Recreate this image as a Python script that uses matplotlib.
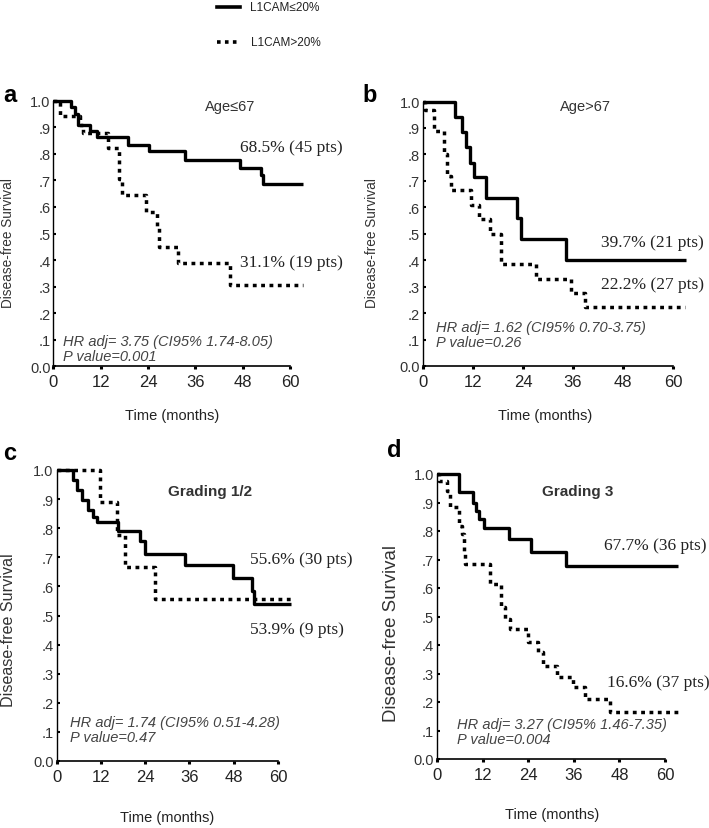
import matplotlib
matplotlib.use("Agg")
import matplotlib.pyplot as plt

W, H = 709, 829
NARROW = ["Liberation Sans Narrow", "Liberation Sans", "DejaVu Sans"]
SANS = ["Liberation Sans", "DejaVu Sans"]
SERIF = ["Liberation Serif", "DejaVu Serif"]

# ---- data (months, disease-free survival) ----
a_low_t = [0, 4.6, 5.5, 6.3, 9.3, 11.1, 19.0, 24.3, 33.3, 47.4, 52.6, 53.2, 63.3]
a_low_s = [1.0, 0.975, 0.95, 0.91, 0.885, 0.862, 0.835, 0.81, 0.778, 0.747, 0.72, 0.686, 0.686]
a_high_t = [0, 1.7, 6.8, 7.6, 13.9, 16.6, 17.5, 23.4, 26.2, 26.8, 31.6, 44.9, 63.3]
a_high_s = [1.0, 0.941, 0.91, 0.88, 0.822, 0.705, 0.645, 0.582, 0.53, 0.448, 0.388, 0.307, 0.307]

b_low_t = [0, 7.6, 9.4, 10.2, 11.2, 12.2, 15.0, 22.6, 23.4, 34.2, 63.2]
b_low_s = [1.0, 0.941, 0.884, 0.827, 0.768, 0.714, 0.635, 0.559, 0.481, 0.399, 0.399]
b_high_t = [0, 0.5, 2.7, 5.0, 5.8, 6.8, 11.6, 13.5, 16.0, 18.8, 27.2, 35.6, 38.8, 62.8]
b_high_s = [1.0, 0.966, 0.889, 0.80, 0.72, 0.665, 0.61, 0.555, 0.50, 0.385, 0.33, 0.275, 0.222, 0.222]

c_low_t = [0, 4.5, 5.6, 7.0, 8.5, 10.0, 11.0, 16.6, 22.7, 24.0, 34.9, 47.9, 52.9, 53.6, 63.4]
c_low_s = [1.0, 0.966, 0.931, 0.897, 0.862, 0.84, 0.823, 0.79, 0.755, 0.713, 0.673, 0.629, 0.585, 0.539, 0.539]
c_high_t = [0, 11.8, 16.3, 18.5, 26.7, 63.4]
c_high_s = [1.0, 0.889, 0.778, 0.667, 0.556, 0.556]

d_low_t = [0, 5.9, 9.6, 10.2, 11.1, 12.3, 19.0, 24.7, 33.9, 63.5]
d_low_s = [1.0, 0.938, 0.90, 0.871, 0.842, 0.81, 0.772, 0.725, 0.677, 0.677]
d_high_t = [0, 0.5, 2.6, 3.3, 5.7, 6.5, 7.0, 7.3, 14.0, 16.8, 17.8, 19.3, 24.0,
            26.5, 27.8, 31.7, 35.9, 39.0, 45.5, 63.5]
d_high_s = [1.0, 0.976, 0.94, 0.883, 0.819, 0.789, 0.72, 0.684, 0.614, 0.532, 0.491,
            0.456, 0.409, 0.374, 0.327, 0.287, 0.251, 0.21, 0.166, 0.166]

x_ticks = [0, 12, 24, 36, 48, 60]
y_ticks = [0.0, 0.1, 0.2, 0.3, 0.4, 0.5, 0.6, 0.7, 0.8, 0.9, 1.0]
y_ticklabels = ["0.0", ".1", ".2", ".3", ".4", ".5", ".6", ".7", ".8", ".9", "1.0"]

DOT = (0, (1.1, 1.3))


def fx(x):
    return x / W


def fy(y):
    return 1 - y / H


def make_axes(fig, x0, x60, y1, y0):
    # pixel geometry of the 0..60 / 0..1 frame
    xmin, xmax = -0.5, 65.0
    ymin, ymax = -0.012, 1.03
    ppm = (x60 - x0) / 60.0
    ppu = y0 - y1
    left = x0 + xmin * ppm
    bottom_px = y0 - ymin * ppu
    ax = fig.add_axes([fx(left), fy(bottom_px), (xmax - xmin) * ppm / W,
                       (ymax - ymin) * ppu / H])
    ax.set_xlim(xmin, xmax)
    ax.set_ylim(ymin, ymax)
    ax.patch.set_visible(False)
    for s in ["top", "right"]:
        ax.spines[s].set_visible(False)
    ax.spines["left"].set_position(("data", 0))
    ax.spines["bottom"].set_position(("data", 0))
    ax.spines["left"].set_bounds(0, 1)
    ax.spines["bottom"].set_bounds(0, 60)
    ax.spines["left"].set_linewidth(1.0)
    ax.spines["bottom"].set_linewidth(1.2)
    ax.set_xticks(x_ticks)
    ax.set_yticks(y_ticks)
    ax.set_yticklabels(y_ticklabels)
    ax.tick_params(axis="x", direction="out", length=2.5, width=2.2, pad=3,
                   labelsize=12, labelcolor="#222")
    ax.tick_params(axis="y", direction="in", length=2.5, width=1.5, pad=2,
                   labelsize=10.5, labelcolor="#333")
    for lab in ax.get_xticklabels() + ax.get_yticklabels():
        lab.set_family(NARROW)
    return ax


def draw_panel(ax, t1, s1, t2, s2):
    ax.step(t1, s1, where="post", color="black", lw=2.4, solid_capstyle="butt",
            clip_on=False)
    ax.step(t2, s2, where="post", color="black", lw=2.5, linestyle=DOT,
            clip_on=False)


fig = plt.figure(figsize=(W / 100, H / 100), dpi=100)

ax_a = make_axes(fig, 53.3, 290, 101.7, 367.3)
draw_panel(ax_a, a_low_t, a_low_s, a_high_t, a_high_s)
ax_b = make_axes(fig, 423, 673, 102.5, 367)
draw_panel(ax_b, b_low_t, b_low_s, b_high_t, b_high_s)
ax_c = make_axes(fig, 56.5, 278, 471, 762)
draw_panel(ax_c, c_low_t, c_low_s, c_high_t, c_high_s)
ax_d = make_axes(fig, 437, 665, 475, 760)
draw_panel(ax_d, d_low_t, d_low_s, d_high_t, d_high_s)

# legend at the top
fig.add_artist(plt.Line2D([fx(217), fx(240)], [fy(8), fy(8)], color="black", lw=2.6))
fig.add_artist(plt.Line2D([fx(217), fx(240)], [fy(43), fy(43)], color="black",
                          lw=2.6, linestyle=(0, (1, 1.2))))
fig.text(fx(250), fy(8), "L1CAM≤20%", family=NARROW, fontsize=8.5, va="center", color="#222")
fig.text(fx(251), fy(43), "L1CAM>20%", family=NARROW, fontsize=8.5, va="center", color="#222")

# panel letters
for letter, x, y in [("a", 3, 96), ("b", 362, 96), ("c", 3, 454), ("d", 387, 451)]:
    fig.text(fx(x), fy(y), letter, fontsize=17, fontweight="bold", family=SANS,
             va="center", ha="left")

# y labels
for x, y, fs in [(8, 243, 9.8), (372, 243, 9.8), (9, 630, 11.6), (392, 633, 13.4)]:
    fig.text(fx(x), fy(y), "Disease-free Survival", rotation=90, family=SANS,
             fontsize=fs, va="center", ha="center", color="#333")

# x labels
for x, y in [(172, 416), (545, 416), (167, 818), (552, 815)]:
    fig.text(fx(x), fy(y), "Time (months)", family=NARROW, fontsize=10.5,
             va="center", ha="center", color="#222")

# subgroup titles
fig.text(fx(230), fy(107), "Age≤67", family=NARROW, fontsize=10.5,
         ha="center", va="center", color="#333")
fig.text(fx(585), fy(107), "Age>67", family=NARROW, fontsize=10.5,
         ha="center", va="center", color="#333")
fig.text(fx(210), fy(492), "Grading 1/2", family=SANS, fontsize=11, fontweight="bold",
         ha="center", va="center", color="#333")
fig.text(fx(578), fy(492), "Grading 3", family=SANS, fontsize=11, fontweight="bold",
         ha="center", va="center", color="#333")

# survival percentages
for x, y, txt in [(240, 148, "68.5% (45 pts)"), (240, 263, "31.1% (19 pts)"),
                  (601, 243, "39.7% (21 pts)"), (601, 285, "22.2% (27 pts)"),
                  (250, 560, "55.6% (30 pts)"), (250, 630, "53.9% (9 pts)"),
                  (604, 546, "67.7% (36 pts)"), (607, 683, "16.6% (37 pts)")]:
    fig.text(fx(x), fy(y), txt, family=SERIF, fontsize=12.5, va="center", ha="left",
             color="#222")

# hazard ratios
for x, y, hr, p in [(63, 342, "HR adj= 3.75 (CI95% 1.74-8.05)", "P value=0.001"),
                    (436, 328, "HR adj= 1.62 (CI95% 0.70-3.75)", "P value=0.26"),
                    (70, 723, "HR adj= 1.74 (CI95% 0.51-4.28)", "P value=0.47"),
                    (457, 725, "HR adj= 3.27 (CI95% 1.46-7.35)", "P value=0.004")]:
    fig.text(fx(x), fy(y), hr, family=SANS, style="italic", fontsize=10.5,
             va="center", ha="left", color="#444")
    fig.text(fx(x), fy(y + 15), p, family=SANS, style="italic", fontsize=10.5,
             va="center", ha="left", color="#444")

fig.savefig("out.png", dpi=100, facecolor="white")
